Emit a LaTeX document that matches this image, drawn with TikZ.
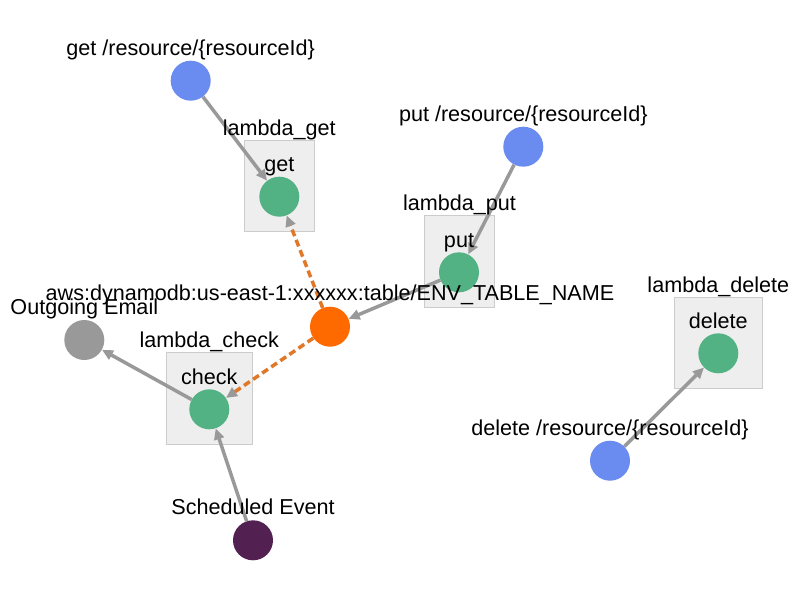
\documentclass[tikz,border=0pt]{standalone}
\usepackage{fontspec}
\setmainfont{Liberation Sans}
\usetikzlibrary{arrows.meta}
\definecolor{srcblue}{HTML}{6A8BEF}
\definecolor{fngreen}{HTML}{52B283}
\definecolor{dbor}{HTML}{FF6A00}
\definecolor{edgegray}{HTML}{999999}
\definecolor{boxfill}{HTML}{EEEEEE}
\definecolor{boxline}{HTML}{CCCCCC}
\definecolor{evpurple}{HTML}{532052}
\definecolor{dashor}{HTML}{E07828}
\tikzset{
  dot/.style={circle, fill=#1, minimum size=40pt, inner sep=0pt, draw=none},
  lbl/.style={anchor=base, inner sep=0pt, font=\fontsize{21.6}{25}\selectfont},
  fnbox/.style={draw=boxline, fill=boxfill, line width=1pt},
  flow/.style={draw=edgegray, line width=3.5pt, -{Triangle[length=11pt,width=10pt,color=edgegray]}},
  dataflow/.style={draw=dashor, line width=3.5pt, dash pattern=on 7pt off 4pt, -{Triangle[length=11pt,width=10pt,color=edgegray]}}
}
\begin{document}
\begin{tikzpicture}[x=1pt,y=-1pt]
\useasboundingbox (0,0) rectangle (800,600);
% boxes
\draw[fnbox] (244.3,140) rectangle (314.3,231.7);
\draw[fnbox] (424.3,215.7) rectangle (494.7,307);
\draw[fnbox] (166.3,352.7) rectangle (252.3,444.3);
\draw[fnbox] (674,297.3) rectangle (762.3,388.3);
% nodes
\node[dot=srcblue] (getsrc) at (190.7,80.7) {};
\node[dot=srcblue] (putsrc) at (523.3,146.7) {};
\node[dot=srcblue] (delsrc) at (610,460.7) {};
\node[dot=fngreen] (getfn) at (279.3,196.7) {};
\node[dot=fngreen] (putfn) at (459,272.3) {};
\node[dot=fngreen] (checkfn) at (209.3,409.3) {};
\node[dot=fngreen] (delfn) at (718.3,353.3) {};
\node[dot=dbor] (db) at (330,326.7) {};
\node[dot=edgegray] (email) at (84.3,340) {};
\node[dot=evpurple] (sched) at (253,540.3) {};
% edges
\draw[flow] (getsrc) -- (getfn);
\draw[flow] (putsrc) -- (putfn);
\draw[flow] (putfn) -- (db);
\draw[dataflow] (db) -- (getfn);
\draw[dataflow] (db) -- (checkfn);
\draw[flow] (checkfn) -- (email);
\draw[flow] (sched) -- (checkfn);
\draw[flow] (delsrc) -- (delfn);
% labels
\node[lbl] (lgetsrc) at (190.7,55.2) {get /resource/\{resourceId\}};
\node[lbl] (lputsrc) at (523.3,121.2) {put /resource/\{resourceId\}};
\node[lbl] (ldelsrc) at (610,435.2) {delete /resource/\{resourceId\}};
\node[lbl] (lgetbox) at (279.3,135) {lambda\_get};
\node[lbl] (lputbox) at (459.5,210.7) {lambda\_put};
\node[lbl] (lcheckbox) at (209.3,347.7) {lambda\_check};
\node[lbl] (ldelbox) at (718.3,292.3) {lambda\_delete};
\node[lbl] (lgetfn) at (279.3,171.7) {get};
\node[lbl] (lputfn) at (459,247.3) {put};
\node[lbl] (lcheckfn) at (209.3,384.3) {check};
\node[lbl] (ldelfn) at (718.3,328.3) {delete};
\node[lbl] (ldb) at (330,300.7) {aws:dynamodb:us-east-1:xxxxxx:table/ENV\_TABLE\_NAME};
\node[lbl] (lemail) at (84.3,314.5) {Outgoing Email};
\node[lbl] (lsched) at (253,514.8) {Scheduled Event};
\end{tikzpicture}
\end{document}
